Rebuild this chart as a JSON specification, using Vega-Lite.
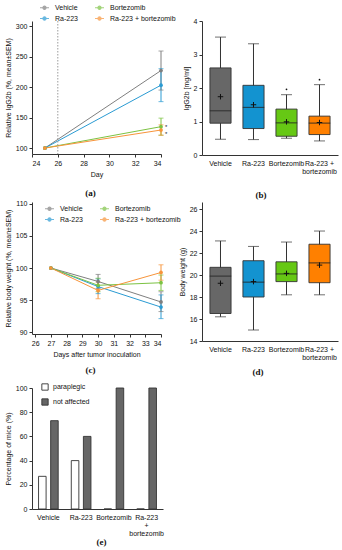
{
  "$schema": "https://vega.github.io/schema/vega-lite/v6.json",
  "padding": {"left": 4, "top": 2, "right": 2, "bottom": 2},
  "columns": 2,
  "bounds": "flush",
  "spacing": {"row": 47, "column": 39},
  "datasets": {
    "igg": [
      {"day": 25, "group": "Vehicle", "mean": 100, "lo": null, "hi": null},
      {"day": 25, "group": "Ra-223", "mean": 100, "lo": null, "hi": null},
      {"day": 25, "group": "Bortezomib", "mean": 100, "lo": null, "hi": null},
      {"day": 25, "group": "Ra-223 + bortezomib", "mean": 100, "lo": null, "hi": null},
      {"day": 34, "group": "Vehicle", "mean": 227, "lo": 195, "hi": 259},
      {"day": 34, "group": "Ra-223", "mean": 203, "lo": 176, "hi": 230},
      {"day": 34, "group": "Bortezomib", "mean": 135, "lo": 121, "hi": 149, "sig": "*", "sigy": 137},
      {"day": 34, "group": "Ra-223 + bortezomib", "mean": 129.5, "lo": 121, "hi": 138, "sig": "*", "sigy": 125}
    ],
    "bw": [
      {"day": 27, "group": "Vehicle", "mean": 100, "lo": null, "hi": null},
      {"day": 27, "group": "Ra-223", "mean": 100, "lo": null, "hi": null},
      {"day": 27, "group": "Bortezomib", "mean": 100, "lo": null, "hi": null},
      {"day": 27, "group": "Ra-223 + bortezomib", "mean": 100, "lo": null, "hi": null},
      {"day": 30, "group": "Vehicle", "mean": 97.9, "lo": 96.8, "hi": 99.0},
      {"day": 30, "group": "Ra-223", "mean": 97.1, "lo": 96.0, "hi": 98.3},
      {"day": 30, "group": "Bortezomib", "mean": 97.3, "lo": 96.3, "hi": 98.4},
      {"day": 30, "group": "Ra-223 + bortezomib", "mean": 96.5, "lo": 95.2, "hi": 97.8},
      {"day": 34, "group": "Vehicle", "mean": 94.7, "lo": 93.2, "hi": 96.3},
      {"day": 34, "group": "Ra-223", "mean": 93.9, "lo": 92.1, "hi": 95.8},
      {"day": 34, "group": "Bortezomib", "mean": 97.7, "lo": 96.5, "hi": 98.9},
      {"day": 34, "group": "Ra-223 + bortezomib", "mean": 99.3, "lo": 98.1, "hi": 100.5}
    ],
    "iggbox": [
      {"group": "Vehicle", "min": 0.47, "q1": 0.95, "med": 1.32, "q3": 2.6, "max": 3.52, "mean": 1.74},
      {"group": "Ra-223", "min": 0.46, "q1": 0.79, "med": 1.42, "q3": 2.08, "max": 3.32, "mean": 1.5},
      {"group": "Bortezomib", "min": 0.5, "q1": 0.56, "med": 0.96, "q3": 1.37, "max": 1.8, "mean": 0.99},
      {"group": "Ra-223 + bortezomib", "min": 0.42, "q1": 0.61, "med": 0.95, "q3": 1.16, "max": 2.1, "mean": 0.97}
    ],
    "iggout": [
      {"group": "Bortezomib", "value": 1.96},
      {"group": "Ra-223 + bortezomib", "value": 2.25}
    ],
    "bwbox": [
      {"group": "Vehicle", "min": 16.2, "q1": 16.5, "med": 19.9, "q3": 20.7, "max": 23.1, "mean": 19.25},
      {"group": "Ra-223", "min": 15.0, "q1": 18.0, "med": 19.35, "q3": 21.3, "max": 22.6, "mean": 19.4},
      {"group": "Bortezomib", "min": 18.2, "q1": 19.4, "med": 20.1, "q3": 21.2, "max": 23.0, "mean": 20.15},
      {"group": "Ra-223 + bortezomib", "min": 18.2, "q1": 19.3, "med": 21.1, "q3": 22.8, "max": 24.0, "mean": 20.9}
    ],
    "para": [
      {"group": "Vehicle", "status": "paraplegic", "pct": 27},
      {"group": "Vehicle", "status": "not affected", "pct": 73},
      {"group": "Ra-223", "status": "paraplegic", "pct": 40},
      {"group": "Ra-223", "status": "not affected", "pct": 60},
      {"group": "Bortezomib", "status": "paraplegic", "pct": 0},
      {"group": "Bortezomib", "status": "not affected", "pct": 100},
      {"group": "Ra-223 + bortezomib", "status": "paraplegic", "pct": 0},
      {"group": "Ra-223 + bortezomib", "status": "not affected", "pct": 100}
    ]
  },
  "concat": [
    {
      "width": 129,
      "height": 133,
      "title": {"text": "(a)", "orient": "bottom", "offset": 12, "dx": -6},
      "data": {"name": "igg"},
      "encoding": {
        "x": {"field": "day", "type": "quantitative", "scale": {"domain": [24, 34], "nice": false},
              "axis": {"values": [24, 26, 28, 30, 32, 34], "title": "Day"}},
        "y": {"field": "mean", "type": "quantitative",
              "scale": {"domain": [90.2, 308.2], "nice": false, "zero": false},
              "axis": {"tickCount": 5, "format": "d", "title": "Relative IgG2b (%, mean±SEM)", "labelOverlap": false, "labelFlush": false, "labelBound": false, "zindex": 2}},
        "color": {"field": "group", "type": "nominal",
                  "scale": {"domain": ["Vehicle", "Ra-223", "Bortezomib", "Ra-223 + bortezomib"],
                            "range": ["#7f7f7f", "#2a9bd3", "#7cc242", "#f7943a"]},
                  "legend": {"orient": "none", "legendX": 7, "legendY": -19, "columns": 2, "title": null,
                             "symbolType": "M-1,0H1M0.35,0A0.35,0.35 0 1 1 -0.35,0A0.35,0.35 0 1 1 0.35,0",
                             "symbolSize": 81, "symbolStrokeWidth": 1.2, "columnPadding": 14,
                             "rowPadding": 1, "labelOffset": 5}}
      },
      "layer": [
        {
          "mark": {"type": "rule", "strokeWidth": 1},
          "encoding": {"y": {"field": "lo", "type": "quantitative"}, "y2": {"field": "hi"}}
        },
        {
          "mark": {"type": "tick", "orient": "horizontal", "size": 5, "thickness": 1},
          "encoding": {"y": {"field": "lo", "type": "quantitative"}}
        },
        {
          "mark": {"type": "tick", "orient": "horizontal", "size": 5, "thickness": 1},
          "encoding": {"y": {"field": "hi", "type": "quantitative"}}
        },
        {
          "mark": {"type": "line", "strokeWidth": 1, "point": {"filled": true, "size": 14}}
        },
        {
          "transform": [{"filter": "datum.day == 25 && datum.group == 'Vehicle'"}],
          "mark": {"type": "rule", "color": "#9c9c9c", "strokeDash": [1.5, 1.5], "strokeWidth": 1},
          "encoding": {"x": {"datum": 26, "type": "quantitative"}, "y": null, "color": null}
        },
        {
          "transform": [{"filter": "datum.sig"}],
          "mark": {"type": "text", "fontSize": 6, "color": "#222", "align": "left", "baseline": "middle", "dx": 4, "dy": 1.5},
          "encoding": {"y": {"field": "sigy", "type": "quantitative"}, "text": {"field": "sig"}, "color": null}
        }
      ]
    },
    {
      "width": 136,
      "height": 134,
      "title": {"text": "(b)", "orient": "bottom", "offset": 17, "dx": -9},
      "data": {"name": "iggbox"},
      "encoding": {
        "x": {"field": "group", "type": "nominal", "sort": ["Vehicle", "Ra-223", "Bortezomib", "Ra-223 + bortezomib"],
              "scale": {"domain": ["Vehicle", "Ra-223", "Bortezomib", "Ra-223 + bortezomib"], "paddingInner": 0, "paddingOuter": 0.06},
              "axis": {"title": null, "labelAngle": 0, "ticks": false, "labelPadding": 4, "labelLineHeight": 8,
                       "labelExpr": "datum.label == 'Ra-223 + bortezomib' ? ['Ra-223 +', 'bortezomib'] : datum.label"}},
        "y": {"field": "min", "type": "quantitative", "scale": {"domain": [0, 4], "nice": false},
              "axis": {"values": [0, 1, 2, 3, 4], "title": "IgG2b [mg/ml]", "labelOverlap": false, "labelFlush": false}}
      },
      "layer": [
        {
          "mark": {"type": "rule", "color": "#333", "strokeWidth": 1},
          "encoding": {"y2": {"field": "max"}}
        },
        {
          "mark": {"type": "tick", "color": "#333", "size": 11, "thickness": 1}
        },
        {
          "mark": {"type": "tick", "color": "#333", "size": 11, "thickness": 1},
          "encoding": {"y": {"field": "max", "type": "quantitative"}}
        },
        {
          "mark": {"type": "bar", "width": {"band": 0.64}, "stroke": "#333", "strokeWidth": 0.9},
          "encoding": {
            "y": {"field": "q1", "type": "quantitative"},
            "y2": {"field": "q3"},
            "color": {"field": "group", "type": "nominal", "legend": null,
                      "scale": {"domain": ["Vehicle", "Ra-223", "Bortezomib", "Ra-223 + bortezomib"],
                                "range": ["#676767", "#1393d0", "#66c814", "#ff8000"]}}
          }
        },
        {
          "mark": {"type": "tick", "color": "#222", "size": 21.5, "thickness": 1.2},
          "encoding": {"y": {"field": "med", "type": "quantitative"}}
        },
        {
          "mark": {"type": "point", "shape": "M-1,0H1M0,-1V1", "size": 30, "filled": false, "stroke": "#111", "strokeWidth": 1, "opacity": 1},
          "encoding": {"y": {"field": "mean", "type": "quantitative"}}
        },
        {
          "data": {"name": "iggout"},
          "mark": {"type": "point", "shape": "circle", "size": 3, "filled": true, "color": "#111", "opacity": 1},
          "encoding": {"y": {"field": "value", "type": "quantitative"}}
        }
      ]
    },
    {
      "width": 129,
      "height": 132,
      "title": {"text": "(c)", "orient": "bottom", "offset": 9, "dx": -6},
      "data": {"name": "bw"},
      "encoding": {
        "x": {"field": "day", "type": "quantitative", "scale": {"domain": [25.8, 34], "nice": false},
              "axis": {"values": [26, 27, 28, 29, 30, 31, 32, 33, 34], "title": "Days after tumor inoculation"}},
        "y": {"field": "mean", "type": "quantitative",
              "scale": {"domain": [89.7, 110.3], "nice": false, "zero": false},
              "axis": {"values": [90, 95, 100, 105, 110], "title": "Relative body weight (%, mean±SEM)", "labelOverlap": false, "labelFlush": false}},
        "color": {"field": "group", "type": "nominal",
                  "scale": {"domain": ["Vehicle", "Ra-223", "Bortezomib", "Ra-223 + bortezomib"],
                            "range": ["#7f7f7f", "#2a9bd3", "#7cc242", "#f7943a"]},
                  "legend": {"orient": "none", "legendX": 12, "legendY": 1, "columns": 2, "title": null,
                             "symbolType": "M-1,0H1M0.35,0A0.35,0.35 0 1 1 -0.35,0A0.35,0.35 0 1 1 0.35,0",
                             "symbolSize": 81, "symbolStrokeWidth": 1.2, "columnPadding": 14,
                             "rowPadding": 1, "labelOffset": 5}}
      },
      "layer": [
        {
          "mark": {"type": "rule", "strokeWidth": 1},
          "encoding": {"y": {"field": "lo", "type": "quantitative"}, "y2": {"field": "hi"}}
        },
        {
          "mark": {"type": "tick", "orient": "horizontal", "size": 5, "thickness": 1},
          "encoding": {"y": {"field": "lo", "type": "quantitative"}}
        },
        {
          "mark": {"type": "tick", "orient": "horizontal", "size": 5, "thickness": 1},
          "encoding": {"y": {"field": "hi", "type": "quantitative"}}
        },
        {
          "mark": {"type": "line", "strokeWidth": 1, "point": {"filled": true, "size": 14}}
        }
      ]
    },
    {
      "width": 136,
      "height": 139,
      "title": {"text": "(d)", "orient": "bottom", "offset": 8, "dx": -12},
      "data": {"name": "bwbox"},
      "encoding": {
        "x": {"field": "group", "type": "nominal", "sort": ["Vehicle", "Ra-223", "Bortezomib", "Ra-223 + bortezomib"],
              "scale": {"domain": ["Vehicle", "Ra-223", "Bortezomib", "Ra-223 + bortezomib"], "paddingInner": 0, "paddingOuter": 0.06},
              "axis": {"title": null, "labelAngle": 0, "ticks": false, "labelPadding": 4, "labelLineHeight": 8,
                       "labelExpr": "datum.label == 'Ra-223 + bortezomib' ? ['Ra-223 +', 'bortezomib'] : datum.label"}},
        "y": {"field": "min", "type": "quantitative", "scale": {"domain": [14, 26.64], "nice": false, "zero": false},
              "axis": {"values": [14, 16, 18, 20, 22, 24, 26], "title": "Body weight (g)", "labelOverlap": false, "labelFlush": false}}
      },
      "layer": [
        {
          "mark": {"type": "rule", "color": "#333", "strokeWidth": 1},
          "encoding": {"y2": {"field": "max"}}
        },
        {
          "mark": {"type": "tick", "color": "#333", "size": 11, "thickness": 1}
        },
        {
          "mark": {"type": "tick", "color": "#333", "size": 11, "thickness": 1},
          "encoding": {"y": {"field": "max", "type": "quantitative"}}
        },
        {
          "mark": {"type": "bar", "width": {"band": 0.64}, "stroke": "#333", "strokeWidth": 0.9},
          "encoding": {
            "y": {"field": "q1", "type": "quantitative"},
            "y2": {"field": "q3"},
            "color": {"field": "group", "type": "nominal", "legend": null,
                      "scale": {"domain": ["Vehicle", "Ra-223", "Bortezomib", "Ra-223 + bortezomib"],
                                "range": ["#676767", "#1393d0", "#66c814", "#ff8000"]}}
          }
        },
        {
          "mark": {"type": "tick", "color": "#222", "size": 21.5, "thickness": 1.2},
          "encoding": {"y": {"field": "med", "type": "quantitative"}}
        },
        {
          "mark": {"type": "point", "shape": "M-1,0H1M0,-1V1", "size": 30, "filled": false, "stroke": "#111", "strokeWidth": 1, "opacity": 1},
          "encoding": {"y": {"field": "mean", "type": "quantitative"}}
        }
      ]
    },
    {
      "width": 131,
      "height": 121,
      "title": {"text": "(e)", "orient": "bottom", "offset": 2, "dx": 4},
      "data": {"name": "para"},
      "mark": {"type": "bar", "stroke": "#333", "strokeWidth": 0.9},
      "encoding": {
        "x": {"field": "group", "type": "nominal", "sort": ["Vehicle", "Ra-223", "Bortezomib", "Ra-223 + bortezomib"],
              "scale": {"domain": ["Vehicle", "Ra-223", "Bortezomib", "Ra-223 + bortezomib"], "paddingInner": 0, "paddingOuter": 0},
              "axis": {"title": null, "labelAngle": 0, "ticks": false, "labelPadding": 4, "labelLineHeight": 8,
                       "labelExpr": "datum.label == 'Ra-223 + bortezomib' ? ['Ra-223', '+', 'bortezomib'] : datum.label"}},
        "xOffset": {"field": "status", "type": "nominal", "sort": ["paraplegic", "not affected"],
                    "scale": {"domain": ["paraplegic", "not affected"], "paddingInner": 0.375, "paddingOuter": 0.54}},
        "y": {"field": "pct", "type": "quantitative", "scale": {"domain": [0, 100], "nice": false},
              "axis": {"values": [0, 20, 40, 60, 80, 100], "title": "Percentage of mice (%)", "labelOverlap": false, "labelFlush": false}},
        "color": {"field": "status", "type": "nominal",
                  "scale": {"domain": ["paraplegic", "not affected"], "range": ["#ffffff", "#666666"]},
                  "legend": {"orient": "none", "legendX": 9, "legendY": -5, "title": null,
                             "symbolType": "square", "symbolSize": 40, "symbolStrokeColor": "#333",
                             "symbolStrokeWidth": 0.9, "rowPadding": 5, "labelOffset": 4}}
      }
    }
  ],
  "resolve": {"scale": {"color": "independent"}, "legend": {"color": "independent"}},
  "config": {
    "font": "Liberation Sans",
    "view": {"stroke": null},
    "axis": {"labelFontSize": 7, "titleFontSize": 7, "titleFontWeight": "normal", "labelColor": "#111",
             "titleColor": "#111", "domainColor": "#333", "tickColor": "#333", "tickSize": 3, "grid": false,
             "labelPadding": 2, "titlePadding": 4, "labelOverlap": false},
    "axisY": {"labelOverlap": false},
    "legend": {"labelFontSize": 7, "labelColor": "#111", "padding": 0},
    "title": {"font": "Liberation Serif", "fontSize": 9, "fontWeight": "bold", "color": "#111"}
  }
}
